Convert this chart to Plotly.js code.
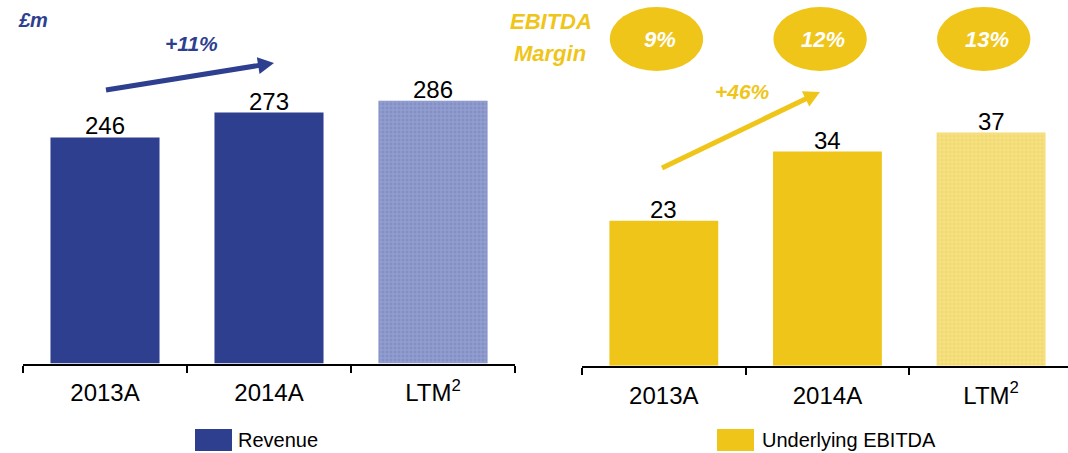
<!DOCTYPE html>
<html>
<head>
<meta charset="utf-8">
<script src="https://cdn.plot.ly/plotly-3.0.1.min.js"></script>
<style>
  html, body { margin: 0; padding: 0; background: #fff; }
  #chart { width: 1068px; height: 453px; }
</style>
</head>
<body>
<div id="chart"></div>
<script>
// ---- data ----
const categories = ['2013A', '2014A', 'LTM'];
const tickLabels = ['2013A', '2014A', 'LTM<sup>2</sup>'];
const revenue = [246, 273, 286];
const ebitda = [23, 34, 37];
const ebitdaMargin = ['9%', '12%', '13%'];
const revenueGrowth = '+11%';
const ebitdaGrowth = '+46%';
const unitLabel = '£m';
const marginLabel = ['EBITDA', 'Margin'];
const seriesNames = ['Revenue', 'Underlying EBITDA'];

// ---- styles ----
const W = 1068, H = 453;
const BLUE = '#2E3F8F', BLUE_LTM = 'rgb(132,144,197)', BLUE_DOT = 'rgb(165,175,220)';
const YEL = '#EFC519', YEL_LTM = 'rgb(243,218,112)', YEL_DOT = 'rgb(249,232,158)';
const FONT = 'Liberation Sans, Arial, sans-serif';
const CLEAR = 'rgba(0,0,0,0)';
const px = x => x / W;
const py = y => 1 - y / H;

const traces = [];
function addBars(vals, name, xa, ya, c, cLtm, dot) {
  // solid fill
  traces.push({ type: 'bar', x: categories, y: vals, name: name, xaxis: xa, yaxis: ya,
    marker: { color: [c, c, cLtm], line: { width: 0 } }, hoverinfo: 'x+y', showlegend: false });
  // fine dotted texture on the LTM bar
  traces.push({ type: 'bar', x: categories, y: vals, name: name, xaxis: xa, yaxis: ya,
    marker: { color: CLEAR, line: { width: 0 },
      pattern: { shape: ['', '', '+'], fillmode: 'replace', bgcolor: CLEAR, fgcolor: dot, size: 4, solidity: 0.25 } },
    hoverinfo: 'skip', showlegend: false });
}
addBars(revenue, seriesNames[0], 'x', 'y', BLUE, BLUE_LTM, BLUE_DOT);
addBars(ebitda, seriesNames[1], 'x2', 'y2', YEL, YEL_LTM, YEL_DOT);

const xAxisBase = {
  type: 'category', showline: true, linecolor: '#000', linewidth: 2,
  ticks: 'outside', ticklen: 7, tickwidth: 2, tickcolor: '#000',
  tickson: 'boundaries', showgrid: false, zeroline: false,
  tickvals: categories, ticktext: tickLabels,
  ticklabelstandoff: 7,
  tickfont: { family: FONT, size: 24, color: '#000' }, fixedrange: true
};

const bi = (size, color) => ({ family: FONT, size: size, color: color, weight: 'bold', style: 'italic' });
const txt = (x, y, text, font, extra) => Object.assign({
  xref: 'paper', yref: 'paper', x: px(x), y: py(y), text: text, showarrow: false,
  xanchor: 'center', yanchor: 'middle', font: font }, extra || {});

const annotations = [
  txt(33, 20, unitLabel, bi(20, BLUE)),
  txt(191, 43, revenueGrowth, bi(21, BLUE)),
  txt(742, 91, ebitdaGrowth, bi(21, YEL)),
  txt(551, 21, marginLabel[0], bi(22, YEL)),
  txt(550, 53, marginLabel[1], bi(22, YEL))
];

// value labels above bars, positioned through the data axes
const addValues = (vals, xr, yr) => vals.forEach((v, i) => annotations.push({
  xref: xr, yref: yr, x: categories[i], y: v, text: String(v), showarrow: false,
  xanchor: 'center', yanchor: 'bottom', yshift: -4,
  font: { family: FONT, size: 24, color: '#000' } }));
addValues(revenue, 'x', 'y');
addValues(ebitda, 'x2', 'y2');

const shapes = [];

// growth arrows as a thick line plus a triangular head
function arrow(x0, y0, x1, y1, color) {
  const dx = x1 - x0, dy = y1 - y0, L = Math.hypot(dx, dy);
  const ux = dx / L, uy = dy / L, nx = -uy, ny = ux;
  const hl = 16, hw = 8.5;
  const bx = x1 - ux * hl, by = y1 - uy * hl;
  shapes.push({ type: 'line', xref: 'paper', yref: 'paper',
    x0: px(x0), y0: py(y0), x1: px(bx + ux), y1: py(by + uy), line: { color: color, width: 5 } });
  const P = (x, y) => px(x) + ',' + py(y);
  shapes.push({ type: 'path', xref: 'paper', yref: 'paper',
    path: 'M' + P(x1, y1) + 'L' + P(bx + nx * hw, by + ny * hw) + 'L' + P(bx - nx * hw, by - ny * hw) + 'Z',
    fillcolor: color, line: { width: 0 } });
}
arrow(106, 90, 274, 63, BLUE);
arrow(662, 168, 820, 92, YEL);

// EBITDA margin ellipses
ebitdaMargin.forEach((m, i) => {
  shapes.push({ type: 'circle', xref: 'x2', yref: 'paper',
    x0: i - 0.045 - 0.285, x1: i - 0.045 + 0.285, y0: py(71), y1: py(7),
    fillcolor: YEL, line: { width: 0 } });
  annotations.push({ xref: 'x2', yref: 'paper', x: categories[i], xshift: -4, y: py(39), text: m,
    xanchor: 'center', yanchor: 'middle', showarrow: false, font: bi(22, '#fff') });
});

// legend swatches (drawn as shapes with real text labels)
const legendPos = [ { x0: 195, x1: 232, tx: 236 }, { x0: 717, x1: 754, tx: 760 } ];
const legendColors = [BLUE, YEL];
seriesNames.forEach((n, i) => {
  const p = legendPos[i];
  shapes.push({ type: 'rect', xref: 'paper', yref: 'paper',
    x0: px(p.x0), x1: px(p.x1), y0: py(451), y1: py(429),
    fillcolor: legendColors[i], line: { width: 0 } });
  annotations.push(txt(p.tx, 440, n, { family: FONT, size: 20, color: '#000' }, { xanchor: 'left' }));
});

const layout = {
  width: W, height: H,
  margin: { l: 0, r: 0, t: 0, b: 0, pad: 0 },
  paper_bgcolor: '#fff', plot_bgcolor: '#fff',
  showlegend: false, barmode: 'overlay', bargap: 0.335,
  font: { family: FONT },
  xaxis: Object.assign({}, xAxisBase, { domain: [px(23), px(515)], anchor: 'y', range: [-0.5, 2.5] }),
  yaxis: { domain: [(H - 363.5) / H, 1], range: [0, 395.5], visible: false, fixedrange: true },
  xaxis2: Object.assign({}, xAxisBase, { domain: [px(582), 1], anchor: 'y2', range: [-0.5, 2.47] }),
  yaxis2: { domain: [(H - 365.7) / H, 1], range: [0, 58.05], visible: false, fixedrange: true },
  shapes: shapes,
  annotations: annotations
};

Plotly.newPlot('chart', traces, layout, { displayModeBar: false, staticPlot: true });
</script>
</body>
</html>
